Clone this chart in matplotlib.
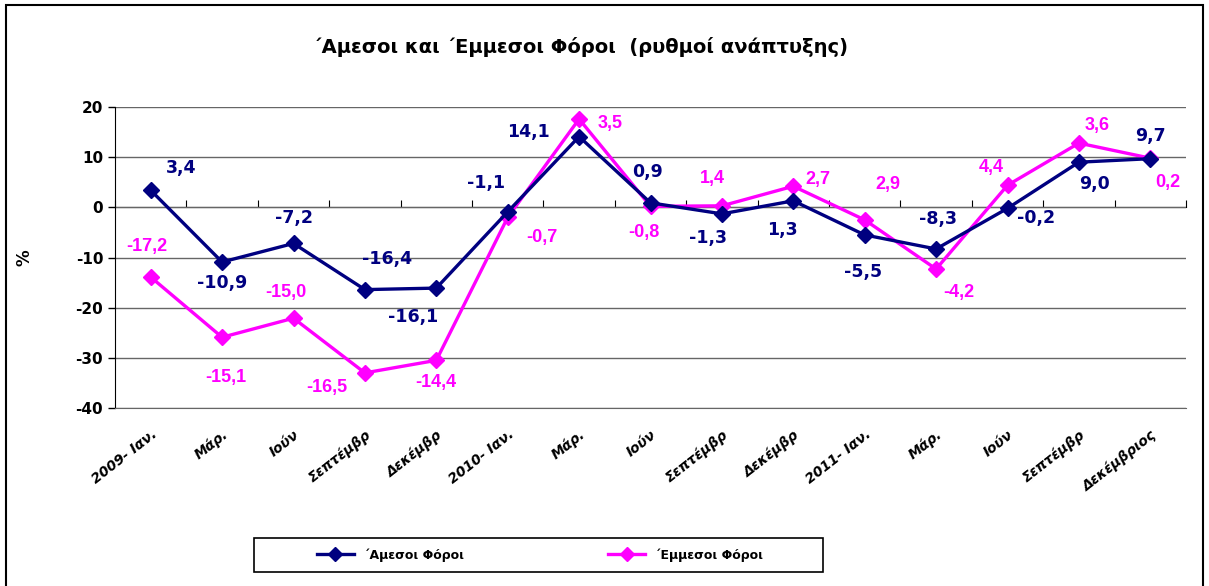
import matplotlib.pyplot as plt
from matplotlib.patches import Rectangle

plt.rcParams['axes.unicode_minus'] = False

# categories (x axis)
months = ['2009- Ιαν.', 'Μάρ.', 'Ιούν', 'Σεπτέμβρ', 'Δεκέμβρ',
          '2010- Ιαν.', 'Μάρ.', 'Ιούν', 'Σεπτέμβρ', 'Δεκέμβρ',
          '2011- Ιαν.', 'Μάρ.', 'Ιούν', 'Σεπτέμβρ', 'Δεκέμβριος']

# Άμεσοι Φόροι (direct taxes)
direct = [3.4, -10.9, -7.2, -16.4, -16.1, -0.9, 14.1, 0.9, -1.3, 1.3,
          -5.5, -8.3, -0.2, 9.0, 9.7]
direct_labels = ['3,4', '-10,9', '-7,2', '-16,4', '-16,1', '-1,1', '14,1', '0,9',
                 '-1,3', '1,3', '-5,5', '-8,3', '-0,2', '9,0', '9,7']

# Έμμεσοι Φόροι (indirect taxes)
indirect = [-13.9, -25.9, -22.1, -33.0, -30.5, -2.0, 17.6, 0.2, 0.3, 4.2,
            -2.5, -12.3, 4.4, 12.8, 9.8]
indirect_labels = ['-17,2', '-15,1', '-15,0', '-16,5', '-14,4', '-0,7', '3,5', '-0,8',
                   '1,4', '2,7', '2,9', '-4,2', '4,4', '3,6', '0,2']

# label offsets in pixels (dx, dy) relative to each marker
direct_off = [(30, 22), (0, -21), (0, 25), (22, 31), (-23, -29), (-22, 29), (-51, 5),
              (-3, 31), (-14, -24), (-11, -29), (-2, -37), (2, 30), (29, -10),
              (16, -22), (0, 23)]
indirect_off = [(-4, 31), (4, -40), (-8, 26), (-38, -15), (0, -22), (34, -20), (31, -4),
                (-7, -26), (-10, 27), (25, 7), (23, 35), (23, -23), (-16, 18),
                (18, 18), (18, -24)]

NAVY = '#000080'
MAGENTA = '#FF00FF'

fig = plt.figure(figsize=(12.09, 5.86), dpi=100)
ax = fig.add_axes([115/1209, 1-408/586, (1186-115)/1209, (408-107)/586])

x = list(range(len(months)))
ax.plot(x, direct, color=NAVY, lw=2.4, marker='D', ms=8, label='΄Αμεσοι Φόροι', zorder=4)
ax.plot(x, indirect, color=MAGENTA, lw=2.4, marker='D', ms=8, label='΄Εμμεσοι Φόροι', zorder=3)

for xi, v, t, (dx, dy) in zip(x, direct, direct_labels, direct_off):
    ax.annotate(t, (xi, v), xytext=(dx, dy), textcoords='offset pixels',
                ha='center', va='center', color=NAVY, fontsize=12.5,
                fontweight='bold', family='DejaVu Sans')
for xi, v, t, (dx, dy) in zip(x, indirect, indirect_labels, indirect_off):
    ax.annotate(t, (xi, v), xytext=(dx, dy), textcoords='offset pixels',
                ha='center', va='center', color=MAGENTA, fontsize=13,
                fontweight='bold', family='Liberation Sans')

ax.set_xlim(-0.5, len(months) - 0.5)
ax.set_ylim(-40, 20)
ax.set_yticks(range(-40, 21, 10))
ax.grid(axis='y', color='#666666', lw=1)
ax.set_axisbelow(True)
for s in ['top', 'right']:
    ax.spines[s].set_visible(False)
ax.spines['bottom'].set_color('#666666')
ax.spines['left'].set_color('black')
ax.tick_params(axis='y', length=5, labelsize=11, width=1)
for lbl in ax.get_yticklabels():
    lbl.set_fontweight('bold')
fig.text(25/1209, 1-258/586, '%', rotation=90, ha='center', va='center',
         fontsize=12, fontweight='bold')

ax.set_xticks(x)
ax.set_xticklabels(months, rotation=38, ha='right', rotation_mode='anchor',
                   fontsize=10, fontweight='bold', style='italic')
ax.tick_params(axis='x', length=0, pad=14)

# zero axis with tick marks between categories
zax = ax.secondary_xaxis(2/3)
zax.set_xticks([i - 0.5 for i in range(len(months) + 1)])
zax.set_xticklabels([])
zax.tick_params(axis='x', length=5, direction='out', color='black')
zax.spines['bottom'].set_color('black')

fig.text(0.48, 1-47/586, '΄Αμεσοι και ΄Εμμεσοι Φόροι  (ρυθμοί ανάπτυξης)',
         ha='center', va='center', fontsize=14, fontweight='bold')

# legend entries, with the box drawn separately (Excel style wide padding)
fig.legend(loc='center', bbox_to_anchor=(540/1209, 1-555/586), ncol=2,
           frameon=False, handlelength=3.0, columnspacing=11.5,
           prop={'weight': 'bold', 'size': 9}, markerscale=0.9)
fig.patches.append(Rectangle((254/1209, 1-572/586), 569/1209, 34/586,
                             transform=fig.transFigure, fill=False,
                             edgecolor='black', lw=1.2))

fig.patches.append(Rectangle((6/1209, -0.01), 1197/1209, 1.01-5/586,
                             transform=fig.transFigure, fill=False,
                             edgecolor='black', lw=1.5))

fig.savefig('out.png', dpi=100)
